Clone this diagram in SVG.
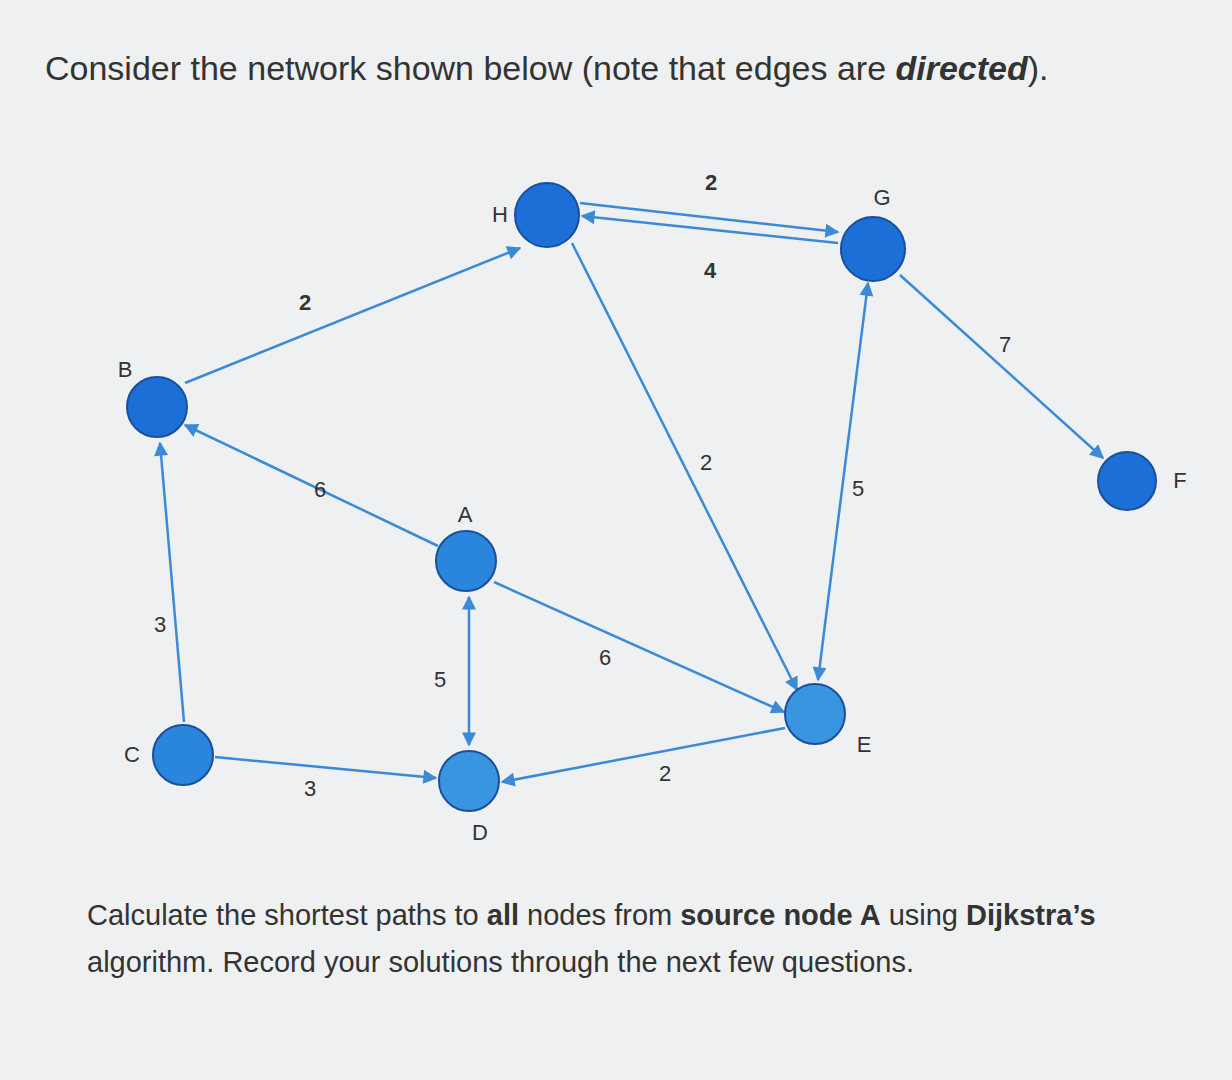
<svg xmlns="http://www.w3.org/2000/svg" width="1232" height="1080" viewBox="0 0 1232 1080">
<defs>
<marker id="ar" viewBox="0 0 10 10" refX="9" refY="5" markerWidth="20" markerHeight="14" orient="auto-start-reverse" markerUnits="userSpaceOnUse"><path d="M0,0 L10,5 L0,10 z" fill="#3a8ad8"/></marker>
<style>
.e{stroke:#3a8ad8;stroke-width:2.5;fill:none;marker-end:url(#ar)}
.n{fill:#1c6fd6;stroke:#1a4f9a;stroke-width:2}
.lbl{font-family:"Liberation Sans",Arial,sans-serif;font-size:22px;fill:#333;text-anchor:middle}
.w{font-family:"Liberation Sans",Arial,sans-serif;font-size:29px;fill:#333}
</style>
</defs>
<rect width="1232" height="1080" fill="#eef0f1"/>
<text class="w" x="45" y="80" style="font-size:34px">Consider the network shown below (note that edges are <tspan font-weight="bold" font-style="italic">directed</tspan>).</text>
<g id="edges">
<line class="e" x1="185" y1="383" x2="520" y2="248"/>
<line class="e" x1="580" y1="203" x2="838" y2="232"/>
<line class="e" x1="838" y1="243" x2="582" y2="216"/>
<line class="e" x1="572" y1="243" x2="797" y2="690"/>
<line class="e" x1="868" y1="283" x2="818" y2="680" style="marker-start:url(#ar)"/>
<line class="e" x1="900" y1="275" x2="1103" y2="458"/>
<line class="e" x1="438" y1="546" x2="185" y2="425"/>
<line class="e" x1="494" y1="582" x2="784" y2="712"/>
<line class="e" x1="469" y1="597" x2="469" y2="745" style="marker-start:url(#ar)"/>
<line class="e" x1="184" y1="722" x2="160" y2="443"/>
<line class="e" x1="215" y1="757" x2="436" y2="778"/>
<line class="e" x1="785" y1="728" x2="502" y2="782"/>
</g>
<g id="edge-labels">
<text x="305" y="310" class="lbl" font-weight="bold">2</text>
<text x="711" y="190" class="lbl" font-weight="bold">2</text>
<text x="710" y="278" class="lbl" font-weight="bold">4</text>
<text x="706" y="470" class="lbl">2</text>
<text x="858" y="496" class="lbl">5</text>
<text x="1005" y="352" class="lbl">7</text>
<text x="320" y="497" class="lbl">6</text>
<text x="605" y="665" class="lbl">6</text>
<text x="440" y="687" class="lbl">5</text>
<text x="160" y="632" class="lbl">3</text>
<text x="310" y="796" class="lbl">3</text>
<text x="665" y="781" class="lbl">2</text>
</g>
<g id="H"><circle class="n" cx="547" cy="215" r="32"/><text class="lbl" x="500" y="222">H</text></g>
<g id="G"><circle class="n" cx="873" cy="249" r="32"/><text class="lbl" x="882" y="205">G</text></g>
<g id="B"><circle class="n" cx="157" cy="407" r="30"/><text class="lbl" x="125" y="377">B</text></g>
<g id="F"><circle class="n" cx="1127" cy="481" r="29"/><text class="lbl" x="1180" y="488">F</text></g>
<g id="A"><circle class="n" cx="466" cy="561" r="30" style="fill:#2a85dc"/><text class="lbl" x="465" y="522">A</text></g>
<g id="E"><circle class="n" cx="815" cy="714" r="30" style="fill:#3a95e0"/><text class="lbl" x="864" y="752">E</text></g>
<g id="C"><circle class="n" cx="183" cy="755" r="30" style="fill:#2a85dc"/><text class="lbl" x="132" y="762">C</text></g>
<g id="D"><circle class="n" cx="469" cy="781" r="30" style="fill:#3a95e0"/><text class="lbl" x="480" y="840">D</text></g>
<text class="w" x="87" y="925">Calculate the shortest paths to <tspan font-weight="bold">all</tspan> nodes from <tspan font-weight="bold">source node A</tspan> using <tspan font-weight="bold">Dijkstra’s</tspan></text>
<text class="w" x="87" y="972">algorithm. Record your solutions through the next few questions.</text>
</svg>
